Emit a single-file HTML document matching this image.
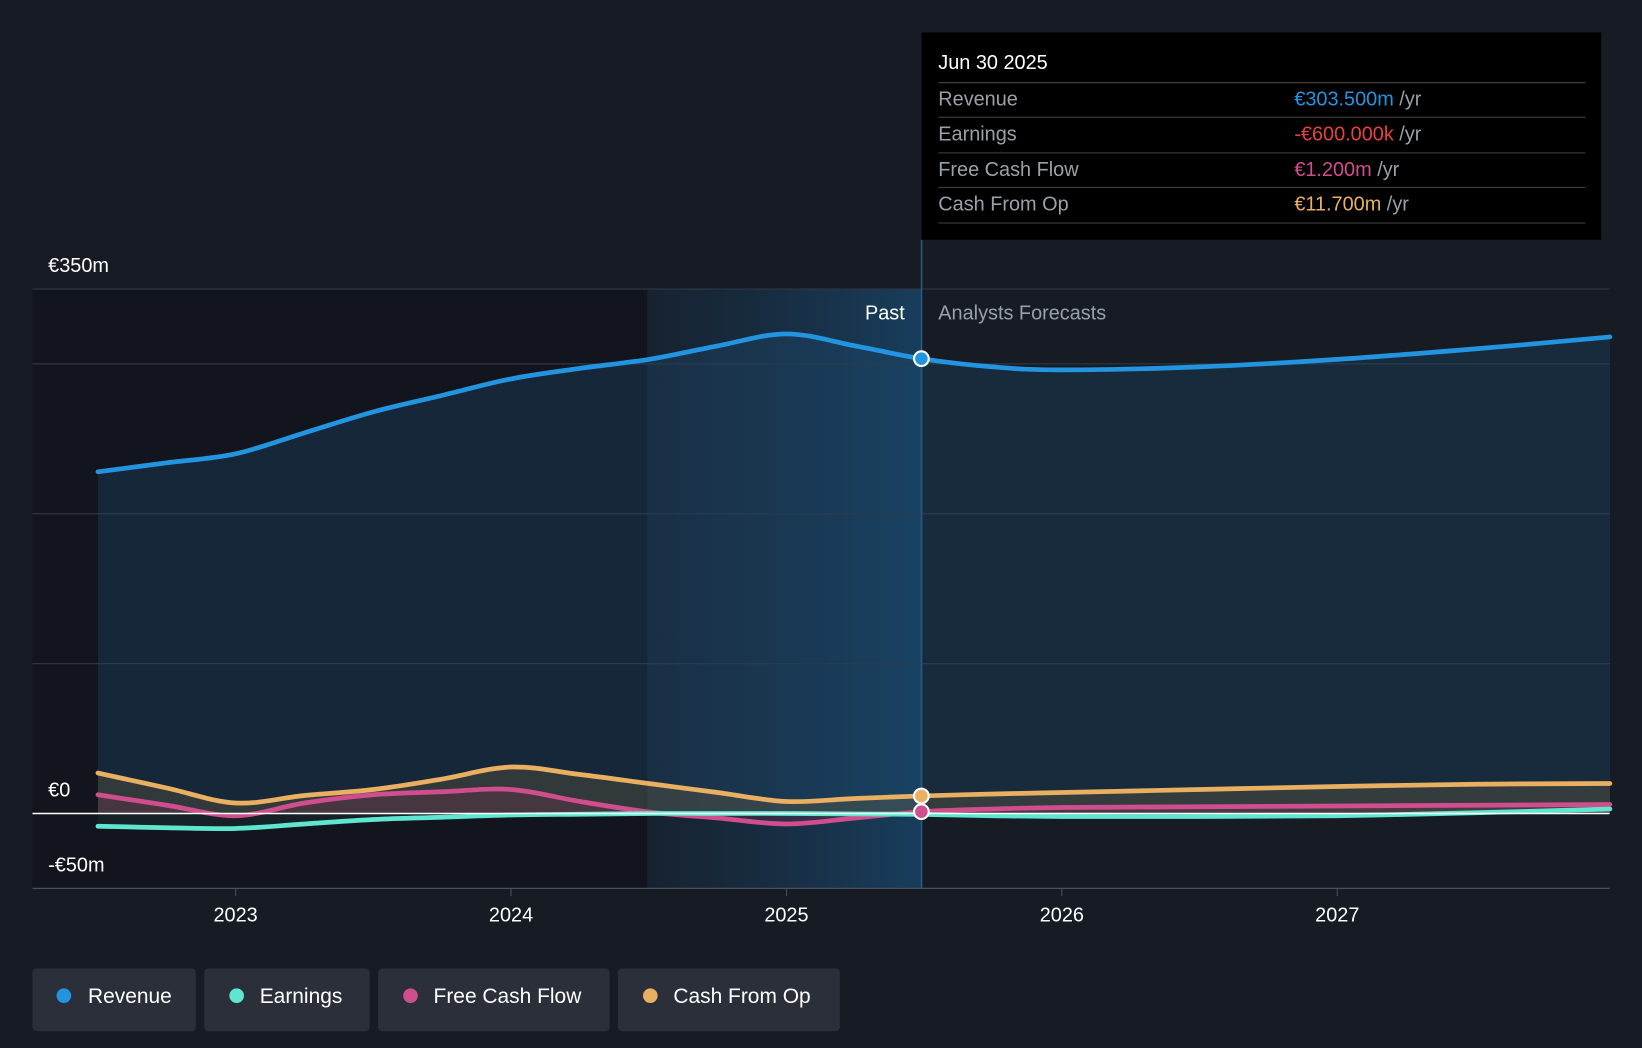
<!DOCTYPE html>
<html><head><meta charset="utf-8">
<style>
html,body{margin:0;padding:0;background:#161b24;}
svg{display:block;font-family:"Liberation Sans",sans-serif;}
</style></head>
<body>
<svg id="chart" width="1642" height="1048" viewBox="0 0 1568 1001" preserveAspectRatio="none" xmlns="http://www.w3.org/2000/svg">
<defs>
<linearGradient id="pastGrad" x1="0" x2="1" y1="0" y2="0">
<stop offset="0" stop-color="#1a4a73" stop-opacity="0.15"/>
<stop offset="1" stop-color="#1a5a8a" stop-opacity="0.55"/>
</linearGradient>
</defs>
<rect x="0" y="0" width="1568" height="1001" fill="#161b24"/>
<rect x="31" y="276" width="587" height="573" fill="#12151d"/>
<rect x="618" y="276" width="262" height="573" fill="url(#pastGrad)"/>
<g id="grid"></g>
<g id="areas"></g>
<g id="lines"></g>
<line x1="31" x2="1537" y1="777" y2="777" stroke="#ffffff" stroke-width="1.5"/>
<line x1="880" x2="880" y1="229" y2="849" stroke="#2a5a80" stroke-width="1.5"/>
<g id="dots"></g>
<text x="864" y="305" fill="#ffffff" font-size="19" text-anchor="end">Past</text>
<text x="896" y="305" fill="#9aa0a8" font-size="19">Analysts Forecasts</text>
<g id="ylabels"></g>
<g id="xlabels"></g>

<g>
<rect x="880" y="31" width="649" height="198" fill="#000000"/>
<text x="896" y="66" fill="#ffffff" font-size="19">Jun 30 2025</text>
<line x1="896" x2="1514" y1="79" y2="79" stroke="#444"/>
<text x="896" y="101" fill="#9aa0a8" font-size="19">Revenue</text>
<text x="1236" y="101" font-size="19"><tspan fill="#2394e0">€303.500m</tspan><tspan fill="#9aa0a8"> /yr</tspan></text>
<line x1="896" x2="1514" y1="112" y2="112" stroke="#444"/>
<text x="896" y="134" fill="#9aa0a8" font-size="19">Earnings</text>
<text x="1236" y="134" font-size="19"><tspan fill="#e8403c">-€600.000k</tspan><tspan fill="#9aa0a8"> /yr</tspan></text>
<line x1="896" x2="1514" y1="146" y2="146" stroke="#444"/>
<text x="896" y="168" fill="#9aa0a8" font-size="19">Free Cash Flow</text>
<text x="1236" y="168" font-size="19"><tspan fill="#d04d8e">€1.200m</tspan><tspan fill="#9aa0a8"> /yr</tspan></text>
<line x1="896" x2="1514" y1="179" y2="179" stroke="#444"/>
<text x="896" y="201" fill="#9aa0a8" font-size="19">Cash From Op</text>
<text x="1236" y="201" font-size="19"><tspan fill="#e8b060">€11.700m</tspan><tspan fill="#9aa0a8"> /yr</tspan></text>
<line x1="896" x2="1514" y1="213" y2="213" stroke="#444"/>
</g>

<g>
<g><rect x="31" y="925" width="156" height="60" rx="4" fill="#2a2f39"/><circle cx="61" cy="951" r="7" fill="#2394e0"/><text x="84" y="958" fill="#fff" font-size="20">Revenue</text></g>
<g><rect x="195" y="925" width="158" height="60" rx="4" fill="#2a2f39"/><circle cx="226" cy="951" r="7" fill="#5ee6d0"/><text x="248" y="958" fill="#fff" font-size="20">Earnings</text></g>
<g><rect x="361" y="925" width="221" height="60" rx="4" fill="#2a2f39"/><circle cx="392" cy="951" r="7" fill="#d04d8e"/><text x="414" y="958" fill="#fff" font-size="20">Free Cash Flow</text></g>
<g><rect x="590" y="925" width="212" height="60" rx="4" fill="#2a2f39"/><circle cx="621" cy="951" r="7" fill="#e8b060"/><text x="643" y="958" fill="#fff" font-size="20">Cash From Op</text></g>
</g>
</svg>
<script>
const years = [2022.5,2022.75,2023,2023.25,2023.5,2023.75,2024,2024.25,2024.5,2024.75,2025,2025.25,2025.49,2025.75,2026,2026.5,2027,2027.5,2027.99];
const revenue = [228,234,240,254,268,279,290,297,303,312,320,312,303.5,298,296,298,303,310,318];
const cashFromOp = [27,17,7,12,16,23,31,26,20,14,8,10,11.7,13,14,16,18,19.5,20];
const freeCashFlow = [12.5,5.5,-1.5,7,12.5,14.5,16,8,1,-3,-7,-3,1.2,3,4,4.5,5,5.5,6];
const earnings = [-8.5,-9.5,-10,-7,-4,-2.5,-1,-0.5,0,0,0,-0.3,-0.6,-1.5,-2,-2,-1.5,0.5,3];
const yTicks = [-50,0,100,200,300,350];
const yLabelVals = [350,0,-50];
const yLabelText = ["€350m","€0","-€50m"];
const xTicks = [2023,2024,2025,2026,2027];
const cursorYear = 2025.49;

const NS="http://www.w3.org/2000/svg";
const xS = y => 225 + (y-2023)*263;
const yS = v => 777 - v*(501/350);
function mk(tag, attrs, parent){const e=document.createElementNS(NS,tag);for(const k in attrs)e.setAttribute(k,attrs[k]);parent.appendChild(e);return e;}
function pathD(vals){
  const p = years.map((y,i)=>[xS(y),yS(vals[i])]);
  let d = `M${p[0][0]},${p[0][1]}`;
  for(let i=0;i<p.length-1;i++){
    const p0=p[i-1]||p[i], p1=p[i], p2=p[i+1], p3=p[i+2]||p2;
    const c1=[p1[0]+(p2[0]-p0[0])/6, p1[1]+(p2[1]-p0[1])/6];
    const c2=[p2[0]-(p3[0]-p1[0])/6, p2[1]-(p3[1]-p1[1])/6];
    d+=` C${c1[0]},${c1[1]} ${c2[0]},${c2[1]} ${p2[0]},${p2[1]}`;
  }
  return d;
}
const grid=document.getElementById('grid');
yTicks.forEach(v=>{
  const l=mk('line',{x1:31,x2:1537,y1:yS(v),y2:yS(v),stroke:v===-50?'#4a4f58':'#2f3540','stroke-width':1.2},grid);
  
  
});
const yl=document.getElementById('ylabels');
yLabelVals.forEach((v,i)=>{
  const t=mk('text',{x:46,y:yS(v)-16,fill:'#fff','font-size':19},yl);
  t.textContent=yLabelText[i];
  
  
});
const xl=document.getElementById('xlabels');
xTicks.forEach(y=>{
  mk('line',{x1:xS(y),x2:xS(y),y1:849,y2:856,stroke:'#4a4f58'},xl);
  const t=mk('text',{x:xS(y),y:880,fill:'#fff','font-size':19,'text-anchor':'middle'},xl);
  t.textContent=y;
  
  
});
const series=[
  {name:'revenue',vals:revenue,color:'#2394e0',fill:'#1e4a6e',op:0.35},
  {name:'cash-from-op',vals:cashFromOp,color:'#e8b060',fill:'#8a7040',op:0.25},
  {name:'free-cash-flow',vals:freeCashFlow,color:'#d04d8e',fill:'#803050',op:0.25},
  {name:'earnings',vals:earnings,color:'#5ee6d0',fill:'#2a6a60',op:0.15}
];
const areas=document.getElementById('areas'), lines=document.getElementById('lines'), dots=document.getElementById('dots');
series.forEach(s=>{
  const d=pathD(s.vals);
  const a=mk('path',{d:d+` L${xS(years[years.length-1])},${yS(0)} L${xS(years[0])},${yS(0)} Z`,fill:s.fill,'fill-opacity':s.op},areas);
  
  
  const l=mk('path',{d:d,fill:'none',stroke:s.color,'stroke-width':4.5,'stroke-linecap':'round'},lines);
  
  
  const idx=years.indexOf(cursorYear);
  if(s.name!=='earnings'){
    const c=mk('circle',{cx:xS(cursorYear),cy:yS(s.vals[idx]),r:7,fill:s.color,stroke:'#fff','stroke-width':2},dots);
    
    
  }
});
</script>
</body></html>
